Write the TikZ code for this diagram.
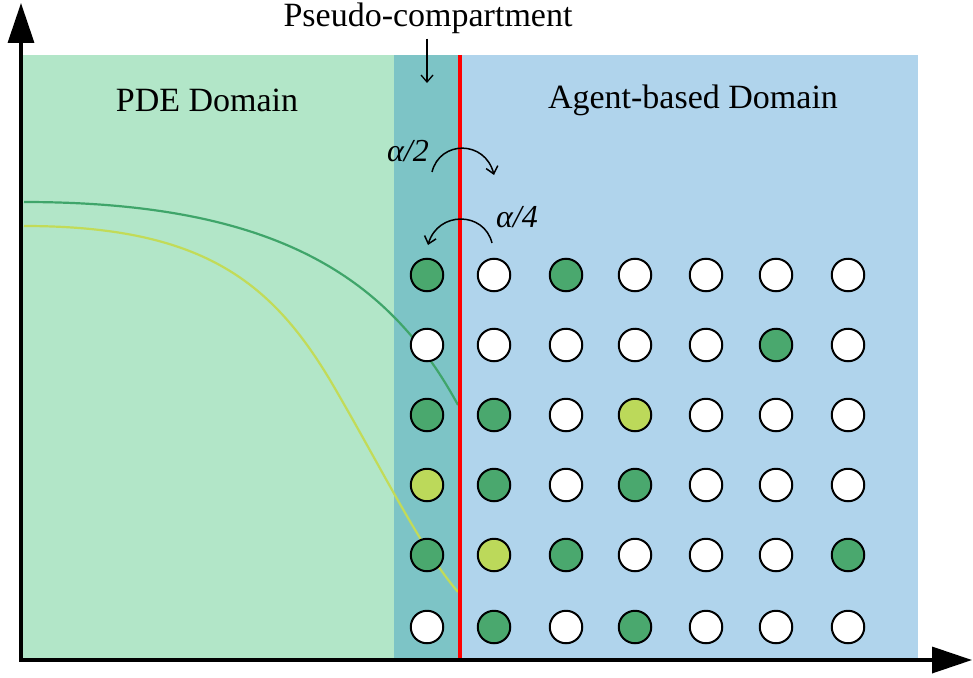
\documentclass[tikz,border=0pt]{standalone}
\usepackage{fontspec}
\setmainfont{Liberation Serif}
\usetikzlibrary{arrows.meta}
\definecolor{pdegreen}{HTML}{B2E6C8}
\definecolor{pseudoteal}{HTML}{7DC4C6}
\definecolor{agentblue}{HTML}{B0D4EC}
\definecolor{cellgreen}{HTML}{4AA86E}
\definecolor{celllime}{HTML}{BCD95A}
\definecolor{curvegreen}{HTML}{3FA56A}
\definecolor{curvelime}{HTML}{C2DB58}
\tikzset{
  cell/.style={circle, draw=black, line width=2pt, minimum size=32.5pt, inner sep=0pt},
  G/.style={cell, fill=cellgreen},
  L/.style={cell, fill=celllime},
  W/.style={cell, fill=white},
  axis/.style={line width=3.5pt, -{Triangle[length=40pt,width=26pt]}},
  label/.style={font=\fontsize{34}{40}\selectfont, inner sep=0pt},
  rate/.style={font=\fontsize{32}{36}\selectfont\itshape, inner sep=0pt},
  flux/.style={line width=1.5pt, -{Straight Barb[length=7pt,width=12pt]}}
}
\begin{document}
\begin{tikzpicture}[x=1pt, y=-1pt]
\useasboundingbox (0,0) rectangle (973,677);
% domains
\fill[pdegreen] (22,55) rectangle (394,660);
\fill[pseudoteal] (394,55) rectangle (460,660);
\fill[agentblue] (460,55) rectangle (918,660);
% concentration profiles
\draw[curvegreen, line width=2.2pt] (24,202) .. controls (280,202) and (390,280) .. (458,405);
\draw[curvelime, line width=2.2pt] (24,226) .. controls (200,226) and (270,280) .. (330,380)
  .. controls (380,465) and (420,548) .. (458,592);
% interface
\draw[red, line width=3.5pt] (460,55) -- (460,660);
% cells
\foreach \row [count=\r] in {{G,W,G,W,W,W,W},{W,W,W,W,W,G,W},{G,G,W,L,W,W,W},{L,G,W,G,W,W,W},{G,L,G,W,W,W,G},{W,G,W,G,W,W,W}} {
  \foreach \kind [count=\c] in \row {
    \pgfmathsetmacro{\cx}{{427,494,566,635,706,776,848}[\c-1]}
    \pgfmathsetmacro{\cy}{{275,345,415,485,555,627}[\r-1]}
    \node[\kind] (c-\r-\c) at (\cx,\cy) {};
  }
}
% axes
\coordinate (origin) at (21,660);
\coordinate (ytip) at (21,3);
\coordinate (xtip) at (972,660);
\draw[axis] (origin) -- (ytip);
\draw[axis] ([xshift=-1.75pt]origin) -- (xtip);
% labels
\node[label] (pde) at (207,100) {PDE Domain};
\node[label] (abm) at (693,100) {Agent-based Domain};
\node[label] (pseudo) at (428,18) {Pseudo-compartment};
\coordinate (pseudotip) at (427,83);
\draw[flux, line width=1.3pt] ([yshift=-5pt]pseudo.south -| pseudotip) -- (pseudotip);
% exchange rates across the interface
\coordinate (a2s) at (432,172);
\coordinate (a2e) at (494,175);
\draw[flux] (a2s) .. controls (440,140) and (485,140) .. (a2e);
\node[rate] (a2) at (408,151) {α/2};
\coordinate (a4s) at (492,243);
\coordinate (a4e) at (428,245);
\draw[flux] (a4s) .. controls (484,211) and (438,211) .. (a4e);
\node[rate] (a4) at (517,217) {α/4};
\end{tikzpicture}
\end{document}
